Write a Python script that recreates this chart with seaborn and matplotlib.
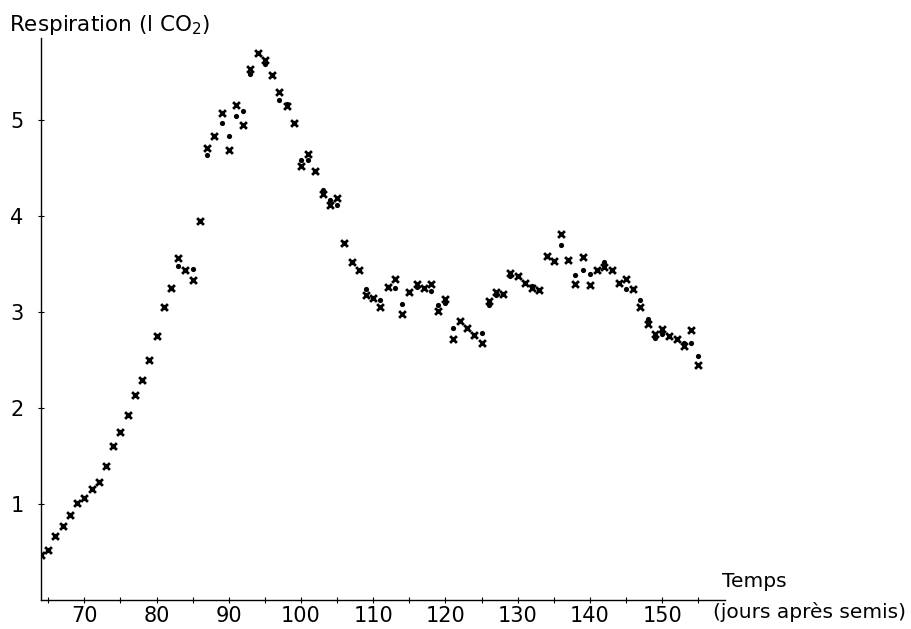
import numpy as np
import pandas as pd
import matplotlib
matplotlib.use("Agg")
import matplotlib.pyplot as plt
import seaborn as sns

# jours après semis
jours = list(range(64, 156))

# respiration, série "croix"
croix = [0.47, 0.52, 0.67, 0.77, 0.885, 1.01, 1.06, 1.16, 1.23, 1.39,
         1.60, 1.75, 1.93, 2.13, 2.29, 2.50, 2.75, 3.05, 3.25, 3.56,
         3.44, 3.33, 3.95, 4.70, 4.83, 5.07, 4.68, 5.15, 4.94, 5.53,
         5.69, 5.62, 5.47, 5.29, 5.14, 4.97, 4.52, 4.64, 4.47, 4.23,
         4.11, 4.18, 3.72, 3.52, 3.44, 3.18, 3.14, 3.05, 3.26, 3.34,
         2.98, 3.21, 3.29, 3.25, 3.29, 3.01, 3.13, 2.72, 2.90, 2.83,
         2.76, 2.67, 3.11, 3.21, 3.19, 3.40, 3.37, 3.30, 3.25, 3.23,
         3.58, 3.53, 3.81, 3.54, 3.29, 3.57, 3.28, 3.44, 3.47, 3.44,
         3.30, 3.34, 3.24, 3.05, 2.87, 2.77, 2.82, 2.75, 2.72, 2.64,
         2.81, 2.45]

# respiration, série "points"
points = [0.47, 0.52, 0.67, 0.77, 0.885, 1.01, 1.06, 1.16, 1.23, 1.39,
          1.60, 1.75, 1.93, 2.13, 2.29, 2.50, 2.75, 3.05, 3.25, 3.48,
          3.44, 3.45, 3.95, 4.63, 4.83, 4.97, 4.83, 5.04, 5.09, 5.48,
          5.69, 5.58, 5.47, 5.20, 5.16, 4.97, 4.58, 4.58, 4.47, 4.27,
          4.16, 4.11, 3.72, 3.52, 3.44, 3.24, 3.14, 3.12, 3.26, 3.25,
          3.08, 3.21, 3.26, 3.25, 3.22, 3.07, 3.09, 2.83, 2.90, 2.83,
          2.76, 2.78, 3.07, 3.18, 3.19, 3.37, 3.37, 3.30, 3.27, 3.23,
          3.58, 3.53, 3.70, 3.54, 3.38, 3.44, 3.39, 3.44, 3.52, 3.44,
          3.30, 3.24, 3.24, 3.12, 2.92, 2.73, 2.77, 2.75, 2.72, 2.67,
          2.68, 2.54]

y_ticks = [1, 2, 3, 4, 5]
x_ticks = [70, 80, 90, 100, 110, 120, 130, 140, 150]

df = pd.DataFrame({"jour": jours, "croix": croix, "point": points})

sns.set_theme(style="white")
plt.rcParams["font.family"] = ["DejaVu Sans"]
plt.rcParams["text.color"] = "black"
plt.rcParams["xtick.color"] = "black"
plt.rcParams["ytick.color"] = "black"

fig = plt.figure(figsize=(9.11, 6.29), dpi=100)
W, H = 911, 629
ax = fig.add_axes([41 / W, 1 - 600 / H, (725 - 41) / W, (600 - 38) / H])

# les points d'abord, les croix par-dessus
sns.scatterplot(data=df, x="jour", y="point", marker="o", s=14, color="black",
                linewidth=0, ax=ax, legend=False)
sns.scatterplot(data=df, x="jour", y="croix", marker="x", s=24, color="black",
                linewidth=2.0, ax=ax, legend=False)

ax.set_xlim(64, 158.7)
ax.set_ylim(0, 5.85)
for s in ["top", "right"]:
    ax.spines[s].set_visible(False)
for s in ["left", "bottom"]:
    ax.spines[s].set_color("black")
    ax.spines[s].set_linewidth(1.0)

ax.set_xticks(x_ticks)
ax.set_xticks(np.arange(65, 158, 5), minor=True)
ax.set_yticks(y_ticks)
ax.set_xticklabels([str(v) for v in x_ticks], fontsize=15)
ax.set_yticklabels([str(v) for v in y_ticks], fontsize=15)
ax.tick_params(axis="x", which="both", direction="inout", length=5, width=0.8,
               color="black", labelcolor="black", pad=2, bottom=True)
ax.tick_params(axis="x", which="minor", length=4)
ax.tick_params(axis="y", direction="inout", length=5, width=0.8,
               color="black", labelcolor="black", pad=10, left=True)
ax.set_xlabel("")
ax.set_ylabel("")
ax.grid(False)

fig.text(9 / W, 1 - 31 / H, "Respiration (l CO$_2$)", fontsize=15.5,
         color="black", ha="left", va="baseline")
fig.text(722 / W, 1 - 587 / H, "Temps", fontsize=14.5, color="black",
         ha="left", va="baseline")
fig.text(713 / W, 1 - 618 / H, "(jours après semis)", fontsize=14.5,
         color="black", ha="left", va="baseline")

fig.savefig("out.png", dpi=100)
